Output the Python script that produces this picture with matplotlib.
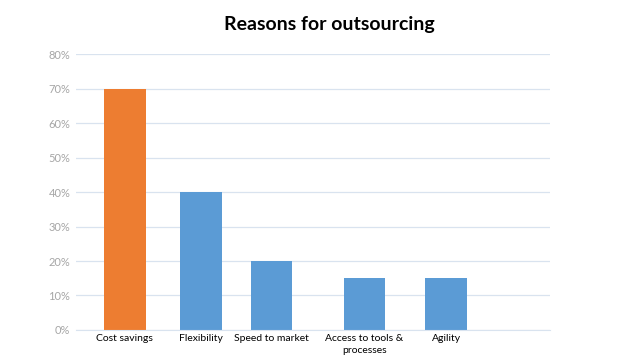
import numpy as np
import matplotlib.pyplot as plt

# chart data
categories = ["Cost savings", "Flexibility", "Speed to market",
              "Access to tools &\nprocesses", "Agility"]
shares = [0.70, 0.40, 0.20, 0.15, 0.15]
bar_colors = ["#ED7D31", "#5B9BD5", "#5B9BD5", "#5B9BD5", "#5B9BD5"]
y_ticks = [0.0, 0.1, 0.2, 0.3, 0.4, 0.5, 0.6, 0.7, 0.8]

# layout: slot centres as drawn in the original (uneven spacing)
slot_pos = [0.0, 0.95, 1.83, 2.99, 4.01]

plt.rcParams['font.family'] = ['Lato', 'DejaVu Sans']

fig = plt.figure(figsize=(6.43, 3.61), dpi=100)
ax = fig.add_axes([0.118, 0.086, 0.737, 0.764])

ax.bar(slot_pos, shares, width=0.52, color=bar_colors, zorder=2)

ax.set_xlim(-0.61, 5.30)
ax.set_ylim(0, 0.8)
ax.set_yticks(y_ticks)
ax.set_yticklabels([f"{int(round(v * 100))}%" for v in y_ticks])
ax.set_xticks(slot_pos)
ax.set_xticklabels(categories, fontsize=7.5, color="black", linespacing=1.35)

ax.grid(axis='y', color="#D9E3EF", linewidth=0.9, zorder=0)
for side in ["top", "right", "left"]:
    ax.spines[side].set_visible(False)
ax.spines["bottom"].set_color("#D9E3EF")
ax.tick_params(axis='y', length=0, labelsize=8, labelcolor="#A6A6A6", pad=4)
ax.tick_params(axis='x', length=0, pad=3)

fig.suptitle("Reasons for outsourcing", fontsize=14, fontweight='bold',
             x=0.513, y=0.955, color="black")

fig.savefig("out.png", dpi=100, facecolor="white")
